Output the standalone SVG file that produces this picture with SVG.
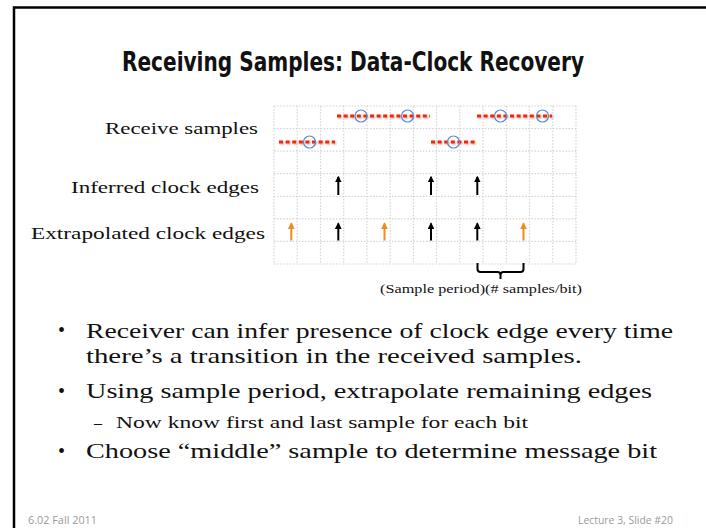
<svg xmlns="http://www.w3.org/2000/svg" width="706" height="528" viewBox="0 0 706 528">
  <defs>
    <style>
      .frame { fill: none; stroke: #000; stroke-width: 2.5; }
      .title { font-family: "DejaVu Sans", "Liberation Sans", sans-serif; font-weight: bold; font-size: 26px; fill: #111; }
      .label { font-family: "Liberation Serif", "DejaVu Serif", serif; font-size: 16.5px; fill: #111; }
      .note { font-family: "Liberation Serif", "DejaVu Serif", serif; font-size: 13.5px; fill: #111; }
      .body { font-family: "Liberation Serif", "DejaVu Serif", serif; font-size: 21px; fill: #111; }
      .sub { font-family: "Liberation Serif", "DejaVu Serif", serif; font-size: 16px; fill: #111; }
      .dot { font-family: "Liberation Serif", "DejaVu Serif", serif; font-size: 20px; fill: #111; }
      .foot { font-family: "Open Sans", "DejaVu Sans", sans-serif; font-size: 10.5px; fill: #9a9a9a; }
      .grid line { stroke: #d4d4d4; stroke-width: 1.2; stroke-dasharray: 1.5 1.6; }
      .sig { stroke: #f0280a; stroke-width: 3; stroke-dasharray: 4 2.6; fill: none; }
      .sample { fill: none; stroke: #5a8ccc; stroke-width: 1.2; }
      .edge-k { stroke: #000; stroke-width: 2; fill: none; }
      .edge-o { stroke: #f28a1e; stroke-width: 2; fill: none; }
      .bracket { stroke: #000; stroke-width: 2; fill: none; stroke-linejoin: round; }
    </style>
    <marker id="headK" viewBox="0 0 10 10" refX="8" refY="5" markerWidth="3.4" markerHeight="3.4" orient="auto" markerUnits="strokeWidth">
      <path d="M0,0 L10,5 L0,10 Z" fill="#000"/>
    </marker>
    <marker id="headO" viewBox="0 0 10 10" refX="8" refY="5" markerWidth="3.4" markerHeight="3.4" orient="auto" markerUnits="strokeWidth">
      <path d="M0,0 L10,5 L0,10 Z" fill="#f28a1e"/>
    </marker>
    <filter id="soft" x="-10%" y="-100%" width="120%" height="300%">
      <feGaussianBlur in="SourceAlpha" stdDeviation="1.2"/>
      <feOffset dx="0.5" dy="1" result="b"/>
      <feComponentTransfer><feFuncA type="linear" slope="0.35"/></feComponentTransfer>
      <feMerge><feMergeNode/><feMergeNode in="SourceGraphic"/></feMerge>
    </filter>
  </defs>

  <rect width="706" height="528" fill="#fff"/>

  <!-- slide frame -->
  <path class="frame" d="M14,528 V7.5 H706"/>

  <text class="title" x="122" y="71" textLength="462" lengthAdjust="spacingAndGlyphs">Receiving Samples: Data-Clock Recovery</text>

  <!-- row labels -->
  <g id="label-receive"><text class="label" x="105" y="134" textLength="153" lengthAdjust="spacingAndGlyphs">Receive samples</text></g>
  <g id="label-inferred"><text class="label" x="71" y="193" textLength="188" lengthAdjust="spacingAndGlyphs">Inferred clock edges</text></g>
  <g id="label-extrapolated"><text class="label" x="31" y="239" textLength="234" lengthAdjust="spacingAndGlyphs">Extrapolated clock edges</text></g>

  <!-- dotted background grid -->
  <g class="grid" id="grid">
    <line x1="274" y1="106" x2="274" y2="264"/>
    <line x1="297.2" y1="106" x2="297.2" y2="264"/>
    <line x1="320.5" y1="106" x2="320.5" y2="264"/>
    <line x1="343.7" y1="106" x2="343.7" y2="264"/>
    <line x1="366.9" y1="106" x2="366.9" y2="264"/>
    <line x1="390.2" y1="106" x2="390.2" y2="264"/>
    <line x1="413.4" y1="106" x2="413.4" y2="264"/>
    <line x1="436.6" y1="106" x2="436.6" y2="264"/>
    <line x1="459.8" y1="106" x2="459.8" y2="264"/>
    <line x1="483.1" y1="106" x2="483.1" y2="264"/>
    <line x1="506.3" y1="106" x2="506.3" y2="264"/>
    <line x1="529.5" y1="106" x2="529.5" y2="264"/>
    <line x1="552.8" y1="106" x2="552.8" y2="264"/>
    <line x1="576" y1="106" x2="576" y2="264"/>
    <line x1="274" y1="106" x2="576" y2="106"/>
    <line x1="274" y1="128.6" x2="576" y2="128.6"/>
    <line x1="274" y1="151.1" x2="576" y2="151.1"/>
    <line x1="274" y1="173.7" x2="576" y2="173.7"/>
    <line x1="274" y1="196.3" x2="576" y2="196.3"/>
    <line x1="274" y1="218.9" x2="576" y2="218.9"/>
    <line x1="274" y1="241.4" x2="576" y2="241.4"/>
    <line x1="274" y1="264" x2="576" y2="264"/>
  </g>

  <!-- received samples: low / high runs -->
  <g id="samples" filter="url(#soft)">
    <line class="sig" x1="279" y1="142" x2="335" y2="142"/>
    <line class="sig" x1="337" y1="116" x2="430" y2="116"/>
    <line class="sig" x1="431" y1="142" x2="475" y2="142"/>
    <line class="sig" x1="477" y1="116" x2="552" y2="116"/>
  </g>
  <g id="middle-samples">
    <circle class="sample" cx="309.5" cy="142" r="6"/>
    <circle class="sample" cx="361" cy="116" r="6"/>
    <circle class="sample" cx="407.5" cy="116" r="6"/>
    <circle class="sample" cx="453.5" cy="142" r="6"/>
    <circle class="sample" cx="500.5" cy="116" r="6"/>
    <circle class="sample" cx="542.5" cy="116" r="6"/>
  </g>

  <!-- clock edge arrows -->
  <g id="edges">
    <line class="edge-k" x1="338.3" y1="195" x2="338.3" y2="177" marker-end="url(#headK)"/>
    <line class="edge-k" x1="431" y1="195" x2="431" y2="177" marker-end="url(#headK)"/>
    <line class="edge-k" x1="477.3" y1="195" x2="477.3" y2="177" marker-end="url(#headK)"/>

    <line class="edge-o" x1="291.3" y1="240.5" x2="291.3" y2="223.5" marker-end="url(#headO)"/>
    <line class="edge-k" x1="338.3" y1="240.5" x2="338.3" y2="223.5" marker-end="url(#headK)"/>
    <line class="edge-o" x1="384.5" y1="240.5" x2="384.5" y2="223.5" marker-end="url(#headO)"/>
    <line class="edge-k" x1="431" y1="240.5" x2="431" y2="223.5" marker-end="url(#headK)"/>
    <line class="edge-k" x1="477.3" y1="240.5" x2="477.3" y2="223.5" marker-end="url(#headK)"/>
    <line class="edge-o" x1="523.5" y1="240.5" x2="523.5" y2="223.5" marker-end="url(#headO)"/>
  </g>

  <!-- bit-period bracket -->
  <g id="bracket">
    <path class="bracket" d="M477.5,263 V269 Q477.5,272 480.5,272 H497.5 Q500.5,272 500.5,275 V279 M500.5,275 Q500.5,272 503.5,272 H520.5 Q523.5,272 523.5,269 V263"/>
    <text class="note" x="380" y="293" textLength="202" lengthAdjust="spacingAndGlyphs">(Sample period)(# samples/bit)</text>
  </g>

  <!-- bullet list -->
  <g id="bullets">
    <text class="dot" x="58" y="337">•</text>
    <text class="body" x="86" y="337.7" textLength="587" lengthAdjust="spacingAndGlyphs">Receiver can infer presence of clock edge every time</text>
    <text class="body" x="86" y="363.3" textLength="496" lengthAdjust="spacingAndGlyphs">there’s a transition in the received samples.</text>
    <text class="dot" x="58" y="397.5">•</text>
    <text class="body" x="86" y="398.3" textLength="566" lengthAdjust="spacingAndGlyphs">Using sample period, extrapolate remaining edges</text>
    <text class="sub" x="94" y="427.7">–</text>
    <text class="sub" x="116" y="427.7" textLength="412" lengthAdjust="spacingAndGlyphs">Now know first and last sample for each bit</text>
    <text class="dot" x="58" y="457.5">•</text>
    <text class="body" x="86" y="458.3" textLength="571" lengthAdjust="spacingAndGlyphs">Choose “middle” sample to determine message bit</text>
  </g>

  <!-- footer -->
  <text class="foot" x="28" y="524" textLength="69" lengthAdjust="spacingAndGlyphs">6.02 Fall 2011</text>
  <text class="foot" x="578" y="524" textLength="95" lengthAdjust="spacingAndGlyphs">Lecture 3, Slide #20</text>
</svg>
